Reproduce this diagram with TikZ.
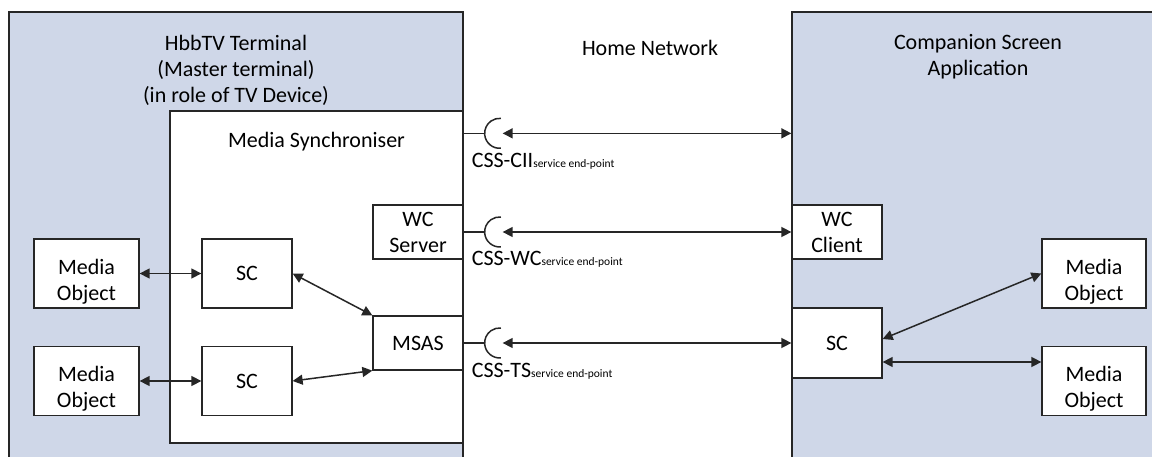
\documentclass[tikz,border=0pt]{standalone}
\usepackage{fontspec}
\setmainfont{Carlito}
\usepackage{xcolor}
\definecolor{hbb_frame}{RGB}{207, 215, 232}
\definecolor{hbb_line}{RGB}{38, 38, 38}
\usepackage{tikz}
\usetikzlibrary{arrows.meta, positioning, calc}

\begin{document}
\begin{tikzpicture}[x=1pt, y=-1pt,
    frame/.style={draw=hbb_line, line width=1.3pt, fill=hbb_frame, inner sep=0pt},
    blk/.style={draw=hbb_line, line width=1.3pt, fill=white, align=center, inner sep=0pt,
      font=\fontsize{22}{26}\selectfont},
    txt/.style={align=center, inner sep=0pt, font=\fontsize{22}{26}\selectfont},
    wire/.style={draw=hbb_line, line width=1.5pt},
    biarrow/.style={wire, {Triangle[length=10pt,width=10pt]}-{Triangle[length=10pt,width=10pt]}}]
  \path[use as bounding box, clip] (0,0) rectangle (1152,457);
  % outer frames
  \node[frame, minimum width=454pt, minimum height=460pt] (hbb) at (236,242) {};
  \node[frame, minimum width=380pt, minimum height=460pt] (csa) at (982,242) {};
  \node[blk, minimum width=293pt, minimum height=332pt] (msync) at (316.5,277) {};
  \node[txt] (hbbtitle) at (236,70) {HbbTV Terminal\\(Master terminal)\\(in role of TV Device)};
  \node[txt] (msynctitle) at (316.5,142) {Media Synchroniser};
  \node[txt] (homenet) at (650,48) {Home Network};
  \node[txt] (csatitle) at (978,57) {Companion Screen\\Application};
  % blocks
  \foreach \i/\yy in {1/273.5, 2/381} {
    \node[blk, minimum width=105pt, minimum height=69pt] (mol\i) at (86.5,\yy) {};
    \node[txt] (molt\i) at ([yshift=-8pt]mol\i.center) {Media\\Object};
    \node[blk, minimum width=90pt, minimum height=69pt] (scl\i) at (247,\yy) {SC};
    \node[blk, minimum width=104pt, minimum height=69pt] (mor\i) at (1094,\yy) {};
    \node[txt] (mort\i) at ([yshift=-8pt]mor\i.center) {Media\\Object};
    \draw[biarrow] (mol\i) -- (scl\i);
  }
  \node[blk, minimum width=90pt, minimum height=54pt] (wcs) at (418,232) {WC\\Server};
  \node[blk, minimum width=90pt, minimum height=54pt] (msas) at (418,343) {MSAS};
  \node[blk, minimum width=90pt, minimum height=54pt] (wcc) at (837,232) {WC\\Client};
  \node[blk, minimum width=90pt, minimum height=70pt] (scr) at (837,343) {SC};
  % local links
  \draw[biarrow] (scl1.east) -- (msas.north west);
  \draw[biarrow] (scl2.east) -- (msas.south west);
  \draw[biarrow] ([yshift=4pt]scr.east) -- (mor1.west);
  \coordinate (scrlow) at ([yshift=-19pt]scr.east);
  \draw[biarrow] (scrlow) -- (scrlow -| mor2.west);
  % home network links
  \coordinate (ciiend) at ($(msync.north east)+(0,23)$);
  \foreach \src/\dst/\nm in {ciiend/csa/CII, wcs/wcc/WC, msas/scr/TS} {
    \draw[wire] (\src -| msync.east) -- ++(21,0) coordinate (sock\nm);
    \draw[wire] ($(sock\nm)+(16.3,14.9)$) arc[start angle=85, end angle=275, radius=15];
    \draw[biarrow] ($(sock\nm)+(18,0)$) -- (\dst.west |- sock\nm);
    \node[anchor=base west, inner sep=0pt, font=\fontsize{22}{26}\selectfont] (lbl\nm)
      at ($(sock\nm)+(-13,34)$) {CSS-\nm{\fontsize{11.5}{13}\selectfont service end-point}};
  }
\end{tikzpicture}
\end{document}
